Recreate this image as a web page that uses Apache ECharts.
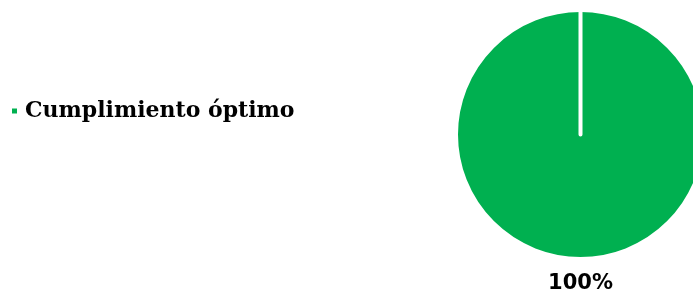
<!DOCTYPE html>
<html>
<head>
<meta charset="utf-8">
<script src="https://cdn.jsdelivr.net/npm/echarts@6/dist/echarts.min.js"></script>
<style>
  html, body { margin: 0; padding: 0; background: #fff; }
  #main { width: 693px; height: 293px; }
</style>
</head>
<body>
<div id="main"></div>
<script>
// datos del gráfico
var categorias = ['Cumplimiento óptimo'];
var valores = [100];
var colores = ['#00B050'];

var myChart = echarts.init(document.getElementById('main'));

var data = categorias.map(function (c, i) {
    return { name: c, value: valores[i], itemStyle: { color: colores[i] } };
});
// porción vacía para dibujar la línea blanca de inicio
data.push({ name: '_sep', value: 0, itemStyle: { color: colores[0] }, label: { show: false } });

var option = {
    animation: false,
    legend: {
        data: categorias,
        orient: 'vertical',
        left: 5,
        top: 95,
        icon: 'rect',
        itemWidth: 7,
        itemHeight: 7,
        textStyle: {
            fontFamily: 'DejaVu Serif',
            fontWeight: 'bold',
            fontSize: 22,
            color: '#000',
            padding: [0, 0, 0, 2]
        }
    },
    series: [{
        type: 'pie',
        center: [580.5, 134.5],
        radius: 124.5,
        startAngle: 90,
        clockwise: true,
        silent: true,
        itemStyle: {
            borderColor: '#fff',
            borderWidth: 4
        },
        label: {
            show: true,
            position: 'center',
            offset: [0, 149],
            formatter: '{d}%',
            fontFamily: 'DejaVu Sans',
            fontWeight: 'bold',
            fontSize: 21,
            color: '#000'
        },
        labelLine: { show: false },
        data: data
    }]
};

myChart.setOption(option);
</script>
</body>
</html>
